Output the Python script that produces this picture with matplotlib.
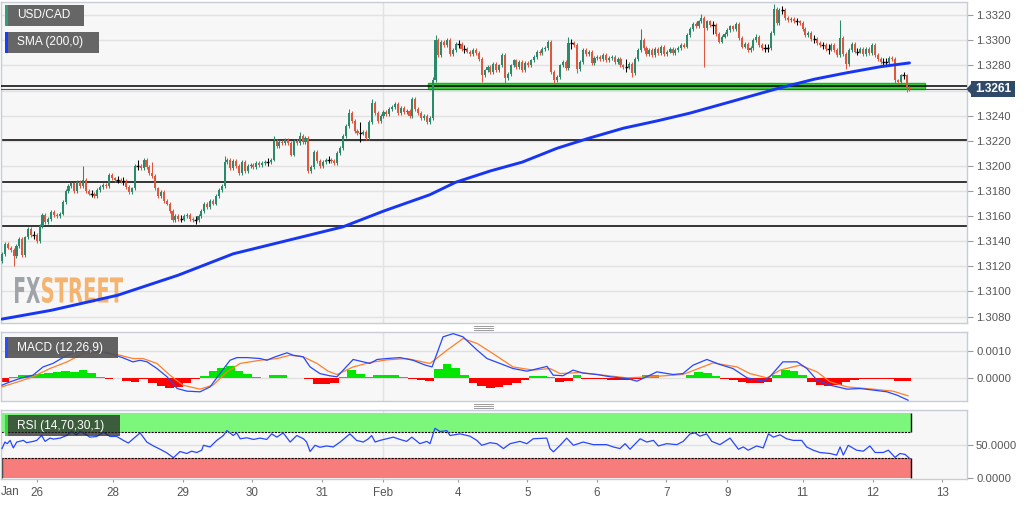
import numpy as np
import matplotlib
matplotlib.use("Agg")
import matplotlib.pyplot as plt
from matplotlib.patches import Rectangle, PathPatch, Polygon
from matplotlib.textpath import TextPath
from matplotlib.font_manager import FontProperties
from matplotlib.transforms import Affine2D
from matplotlib.lines import Line2D

plt.rcParams['font.family'] = ['Liberation Sans', 'DejaVu Sans']

# ---------------- data (prices in pips above 1.3000, hourly candles) ----------------
pair_label = "USD/CAD"
sma_label = "SMA (200,0)"
macd_label = "MACD (12,26,9)"
rsi_label = "RSI (14,70,30,1)"
last_price_label = "1.3261"
price_base = 1.3000
pip = 0.0001

first_open = 124
close_jan25 = [130, 138, 135, 133, 128, 136, 142, 129, 143, 150, 145, 145, 140]
close_jan26 = [152, 161, 155, 158, 163, 161, 160, 162, 171, 180, 184, 186, 180,
               187, 184, 189, 180, 178, 178, 176, 181, 183, 185, 184, 193, 190]
close_jan28 = [189, 189, 188, 188, 183, 179, 182, 200, 200, 198, 205, 199,
               194, 192, 182, 176, 179, 172, 170, 164, 157, 160, 158, 158]
close_jan29 = [160, 161, 158, 157, 157, 160, 164, 170, 167, 172, 170, 176,
               181, 184, 203, 205, 198, 204, 200, 194, 203, 196, 200, 201]
close_jan30 = [199, 202, 201, 202, 203, 203, 205, 220, 216, 219, 218, 221,
               218, 209, 220, 218, 224, 219, 222, 196, 199, 211, 204, 200]
close_jan31 = [203, 205, 205, 204, 202, 210, 214, 224, 232, 242, 236, 228,
               226, 226, 227, 222, 235, 250, 242, 236, 240]
close_feb01 = [243, 241, 245, 247, 249, 242, 246, 243, 244, 240, 253, 245, 242,
               238, 240, 235, 238, 268, 300, 288, 299, 296, 300, 289, 292, 297]
close_feb04 = [297, 293, 293, 291, 289, 292, 290, 285, 272, 276, 279, 275,
               281, 276, 280, 288, 270, 273, 280, 284, 279, 283, 276, 282]
close_feb05 = [280, 284, 287, 291, 290, 293, 294, 299, 275, 268, 271, 280,
               283, 278, 298, 298, 296, 277, 283, 292, 289, 291, 282, 286]
close_feb06 = [287, 285, 288, 284, 286, 287, 283, 285, 280, 279, 279, 281,
               274, 285, 292, 300, 294, 289, 292, 288, 293, 290, 295, 289]
close_feb07 = [291, 293, 290, 292, 294, 296, 295, 304, 309, 313, 311, 315,
               318, 310, 315, 312, 312, 305, 299, 303, 305]
close_feb08 = [308, 311, 309, 313, 302, 295, 297, 292, 294, 300, 303, 296, 294,
               294, 294, 306, 325, 314, 324, 324, 318, 316, 317, 315, 315, 314]
close_feb11 = [309, 304, 306, 301, 301, 298, 296, 296, 293, 293, 296, 292, 288,
               302, 289, 281, 292, 297, 291, 291, 293, 289, 293, 290, 296]
close_feb12 = [288, 285, 283, 283, 283, 286, 285, 268, 267, 272, 272, 262, 261]

# notable wicks: candle index -> pips
spike_high = {28: 200, 47: 205, 52: 203, 77: 208, 94: 224, 103: 227, 120: 245,
              124: 235, 128: 253, 149: 271, 150: 304, 173: 290, 189: 300, 196: 303,
              197: 301, 216: 285, 221: 309, 242: 321, 246: 315, 261: 305, 267: 329,
              286: 297, 290: 316, 312: 274}
spike_low = {4: 120, 59: 155, 106: 194, 124: 219, 166: 267, 174: 266, 191: 265,
             197: 293, 199: 274, 216: 275, 218: 271, 243: 279, 246: 305, 286: 289,
             292: 277, 309: 266, 313: 259}
typical_wick = 1.5      # estimated ordinary wick, pips
doji_wick = 3.0         # estimated doji wick, pips

# SMA(200) read at candle positions
sma_idx = [0, 17, 40, 61, 80, 103, 118, 132, 148, 157, 169, 180, 192, 203, 215,
           227, 238, 252, 269, 281, 292, 304, 314]
sma_val = [78, 85, 97, 113, 130, 143, 151.5, 164, 177, 187, 196, 203, 214, 222, 230,
           236, 242, 251, 262, 269, 274, 279, 282]

# key levels (price)
level_main = 1.3264
levels_other = [1.3221, 1.3187, 1.3152]
last_price = 1.3261
zone_low, zone_high = 1.32615, 1.32664
zone_start, zone_end = 147.4, 319.4

# MACD (units of 1e-4)
macd_idx = [0, 2.8, 6.2, 10.7, 14.2, 17.6, 22.5, 26.0, 29.4, 33.9, 37.4, 41.9, 45.3, 47.8,
            50.2, 53.6, 57.1, 60.6, 64.0, 68.5, 72.0, 75.4, 78.9, 81.3, 84.8, 89.3, 91.7,
            93.8, 98.6, 100.7, 104.2, 106.6, 110.0, 113.5, 115.9, 121.5, 127.3, 129.8,
            133.2, 137.7, 142.2, 146.4, 148.8, 152.6, 156.1, 159.5, 164.4, 167.8, 172.3,
            176.8, 181.7, 188.6, 190.7, 194.1, 197.6, 201.0, 205.9, 210.4, 216.3, 219.7,
            224.2, 226.6, 232.2, 235.6, 239.1, 243.9, 248.4, 252.9, 257.8, 263.3, 265.7,
            270.2, 275.1, 278.5, 282.0, 286.5, 292.4, 296.9, 301.4, 306.2, 309.7, 313.5]
macd_val = [-2.75, -1.5, -0.25, 1.0, 4.1, 5.4, 8.5, 9.75, 10.4, 10.0, 9.1, 7.5, 6.0, 6.6,
            6.0, 3.5, 0.4, -4.0, -5.0, -5.25, -3.4, 1.6, 6.6, 7.6, 7.6, 7.25, 6.6,
            7.6, 9.4, 8.5, 7.9, 4.1, 1.6, 0.75, 0.4, 6.9, 5.4, 6.9,
            7.25, 7.6, 6.6, 4.8, 4.1, 15.4, 16.6, 15.4, 10.4, 7.25, 5.4,
            3.5, 2.5, 4.3, 1.0, 0.8, 2.9, 1.8, 1.25, 0.4, -0.25, -1.25,
            1.0, 2.25, 1.25, 1.6, 4.75, 6.9, 5.0, 3.5, 0.0, -1.25, 0.4,
            6.0, 6.0, 3.5, -0.9, -2.75, -4.25, -4.0, -4.6, -5.25, -6.5, -8.4]
signal_idx = [0, 6.2, 10.7, 16.6, 22.5, 28.0, 33.9, 39.8, 45.3, 48.8, 53.6, 58.1, 62.6,
              68.5, 73.0, 77.9, 82.4, 89.3, 95.2, 99.7, 104.2, 109.0, 112.8, 115.9, 121.5,
              127.3, 133.2, 140.1, 148.1, 154.0, 159.5, 164.4, 169.9, 176.8, 183.7, 189.6,
              193.1, 200.0, 208.0, 216.3, 224.2, 235.6, 246.0, 254.3, 258.8, 264.7, 269.2,
              276.1, 282.0, 286.5, 292.4, 301.4, 308.3, 313.5]
signal_val = [-3.4, -1.25, 0.4, 3.5, 6.0, 9.1, 9.75, 8.75, 7.25, 7.25, 5.4, 1.0, -2.75,
              -4.25, -2.75, 2.25, 5.4, 6.6, 7.25, 8.5, 7.9, 5.4, 2.5, 1.25, 4.1,
              5.75, 6.75, 7.25, 5.4, 10.4, 14.75, 12.9, 9.1, 4.1, 2.9, 3.5,
              1.6, 2.0, 1.0, 0.0, 0.4, 1.25, 5.6, 4.1, 1.6, 0.0, 2.9,
              4.75, 2.25, -1.5, -3.4, -4.25, -5.0, -6.75]
hist_start = 0
hist_step = 3
hist_val = [-1.5, 0.5, 0.9, 1.2, 1.5, 1.9, 2.3, 2.5, 2.2, 3.0,
            1.8, 0.2, -0.6, -0.1, -1.1, -1.7, -0.5, -2.0, -3.2, -4.0,
            -3.4, -2.0, -0.4, 0.8, 2.4, 3.8, 4.4, 2.6, 1.5, 0.2,
            -0.1, 1.0, 1.2, 0.1, -0.1, -0.6, -2.5, -2.3, -1.8, 0.4,
            2.8, 1.5, 0.3, 1.0, 1.0, 1.0, 0.4, -0.4, -0.9, -1.3,
            3.5, 5.1, 3.8, 1.2, -2.0, -3.2, -3.8, -3.5, -2.6, -1.8,
            -1.0, 0.6, 0.8, 0.4, -1.7, -1.2, 1.0, -0.3, -0.5, -0.5,
            -0.7, -0.8, -0.8, -0.4, 1.2, 0.9, 0.1, -0.1, 0.1, 1.2,
            2.2, 2.0, 0.8, -0.6, -1.0, -1.6, -2.0, -2.1, -1.5, 1.2,
            2.9, 2.4, 0.9, -1.5, -2.6, -3.0, -2.8, -1.5, -0.8, -0.6,
            -0.3, -0.3, -0.5, -1.2, -1.3]

# RSI(14)
rsi_idx = [0, 1.0, 1.8, 2.8, 3.9, 5.1, 7.4, 8.5, 10.8, 12.0, 13.7, 14.9, 16.6, 17.8, 20.1,
           22.4, 24.1, 25.8, 27.0, 28.7, 30.4, 32.8, 35.1, 37.4, 39.7, 42.0, 43.7, 45.4,
           47.8, 50.1, 52.4, 54.7, 57.0, 59.3, 61.6, 63.9, 65.6, 67.4, 69.1, 69.7, 72.0,
           74.3, 76.6, 77.8, 80.0, 81.2, 82.4, 84.7, 87.0, 89.3, 91.6, 93.3, 95.1, 97.3,
           99.7, 102.0, 104.3, 105.4, 106.6, 108.3, 110.0, 112.3, 114.6, 117.0, 120.4,
           122.7, 125.0, 126.8, 127.9, 129.1, 130.8, 133.1, 135.4, 137.7, 140.0, 141.8,
           144.6, 147.0, 148.1, 149.8, 151.6, 153.9, 155.0, 158.5, 161.9, 164.3, 166.0,
           168.9, 171.2, 173.5, 175.8, 179.2, 181.6, 183.8, 188.5, 189.6, 190.8, 193.1,
           195.4, 197.7, 201.1, 204.6, 209.2, 211.5, 213.8, 215.6, 217.3, 220.8, 223.1,
           225.4, 227.1, 230.0, 233.5, 235.7, 238.1, 239.8, 241.5, 243.8, 245.6, 248.4,
           251.9, 254.8, 256.5, 258.2, 261.1, 263.4, 265.2, 266.9, 269.2, 271.5, 273.8,
           276.7, 278.4, 280.7, 283.0, 286.5, 288.8, 290.0, 291.1, 292.8, 295.7, 298.0,
           300.3, 302.1, 304.9, 306.7, 309.0, 310.7, 312.5, 314.0]
rsi_val = [45, 55, 52.5, 57.5, 46, 55, 57.5, 54, 56, 57.5, 65, 56, 61, 59.5, 61,
           65, 71, 66, 71, 67.5, 62.5, 63.5, 70, 63.5, 63.5, 57.5, 53.5, 60,
           69, 55, 49, 44, 38.5, 31, 40.5, 37.5, 41, 39, 42.5, 50, 47.5,
           57.5, 65, 72.5, 65, 69, 60, 61.5, 59, 61, 59, 67.5, 62.5, 69,
           55, 65, 60, 55, 40.5, 50, 47, 49, 47.5, 55, 67.5,
           57.5, 55, 60, 65, 55, 57.5, 60, 62.5, 59, 56, 62.5,
           52.5, 56, 52.5, 76, 71, 72.5, 65, 67.5, 64, 57.5, 50,
           54, 52.5, 45, 52.5, 56, 52.5, 60, 61, 45, 40, 50,
           61, 50, 55, 51, 51, 47.5, 45, 52.5, 44, 60, 55,
           57.5, 49, 52.5, 51, 56, 67.5, 69, 64, 67.5, 56, 51,
           61, 44, 47.5, 42.5, 49, 46, 67.5, 62.5, 66, 60, 57.5,
           57.5, 47.5, 42.5, 39, 37.5, 35, 47.5, 35, 50, 42.5, 41,
           49, 39, 39, 42.5, 31.5, 37.5, 36, 30]
rsi_upper, rsi_lower, rsi_band_top = 70, 30, 100
band_end = 314.5

# x axis
tick_pos = [12.2, 38.5, 62.5, 86.6, 110.6, 131.7, 157.9, 181.8, 205.8, 229.8,
            251.0, 277.0, 301.3, 325.3]
tick_lab = ["26", "28", "29", "30", "31", "Feb", "4", "5", "6", "7", "9", "11", "12", "13"]
first_tick_label = "Jan"
month_line = 131.7
x_lo, x_hi = -0.35, 333.9

# ---------------- derived candles ----------------
closes = np.array(close_jan25 + close_jan26 + close_jan28 + close_jan29 + close_jan30 +
                  close_jan31 + close_feb01 + close_feb04 + close_feb05 + close_feb06 +
                  close_feb07 + close_feb08 + close_feb11 + close_feb12, dtype=float)
n = len(closes)
xs = np.arange(n)
opens = np.concatenate([[first_open], closes[:-1]])
doji = opens == closes
pad = np.where(doji, doji_wick, typical_wick)
highs = np.maximum(opens, closes) + pad
lows = np.minimum(opens, closes) - pad
for k, v in spike_high.items():
    highs[k] = max(highs[k], v)
for k, v in spike_low.items():
    lows[k] = min(lows[k], v)

def P(p):
    return price_base + np.asarray(p, dtype=float) * pip

# ---------------- figure ----------------
W, H = 1032, 505
fig = plt.figure(figsize=(W / 100, H / 100), dpi=100, facecolor='white')

def fr(x0, y0, x1, y1):
    return [x0 / W, 1 - y1 / H, (x1 - x0) / W, (y1 - y0) / H]

ax_p = fig.add_axes(fr(1, 1.5, 967, 323))
ax_m = fig.add_axes(fr(1, 332.3, 967, 401))
ax_r = fig.add_axes(fr(1, 410, 967, 479.3))

label_color = '#555555'
for ax in (ax_p, ax_m, ax_r):
    ax.set_facecolor('#f7f7f7')
    for s in ax.spines.values():
        s.set_color('#c8ccd8')
        s.set_linewidth(1.0)
    ax.set_xlim(x_lo, x_hi)
    ax.yaxis.tick_right()
    ax.tick_params(axis='y', length=4.5, width=0.8, color='#9a9a9a', labelcolor=label_color,
                   labelsize=8.1, pad=2)
    ax.axvline(month_line, color='#e2e2e2', lw=1, zorder=0)

# ---- price panel ----
price_ticks = np.round(np.arange(1.3080, 1.33201, 0.0020), 4)
ax_p.set_ylim(1.30749, 1.33309)
ax_p.set_yticks(price_ticks)
# the 1.3260 label sits under the last-price tag, so it is left blank
ax_p.set_yticklabels(["" if abs(v - 1.3260) < 1e-6 else f"{v:.4f}" for v in price_ticks])
ax_p.set_xticks([])
for v in price_ticks:
    ax_p.axhline(v, color='#e2e2e2', lw=1, zorder=0)

# watermark
def watermark(ax, text, x0, x1, ytop, ybot, color):
    fp = FontProperties(family='DejaVu Sans', weight='bold')
    tp = TextPath((0, 0), text, size=100, prop=fp)
    ext = tp.get_extents()
    tr = (Affine2D().translate(-ext.x0, -ext.y0)
          .scale((x1 - x0) / ext.width, (ybot - ytop) / ext.height)
          .translate(x0, H - ybot))
    patch = PathPatch(tp, transform=tr, facecolor=color, edgecolor='none', zorder=1)
    ax.add_artist(patch)

watermark(ax_p, "FX", 15, 40, 277, 303, '#a0a4aa')
watermark(ax_p, "STREET", 42, 123, 277, 303, '#f4b36f')

up_c, dn_c = '#2b8a6b', '#e0573f'
cols = np.where(doji, 'black', np.where(closes > opens, up_c, dn_c))
ax_p.vlines(xs, P(lows), P(highs), colors=cols, lw=0.75, zorder=3)
body_lo = np.minimum(opens, closes)
body_h = np.abs(closes - opens)
nd = ~doji
ax_p.bar(xs[nd], body_h[nd] * pip, bottom=P(body_lo[nd]), width=0.72,
         color=cols[nd], linewidth=0, zorder=3)
ax_p.hlines(P(closes[doji]), xs[doji] - 0.55, xs[doji] + 0.55, colors='black', lw=1.0, zorder=3)

ax_p.plot(sma_idx, P(sma_val), color='#1636f3', lw=2.1, zorder=4, solid_capstyle='round')

for lv in levels_other:
    ax_p.axhline(lv, color='black', lw=1.1, zorder=2)
ax_p.add_patch(Rectangle((zone_start, zone_low), zone_end - zone_start, zone_high - zone_low,
                         facecolor='#3ccf3c', edgecolor='#22b022', lw=1.0, zorder=2.5,
                         clip_on=False))
ax_p.axhline(level_main, color='black', lw=1.1, zorder=2.6)
ax_p.axhline(last_price, color='#3c5878', lw=0.8, zorder=2.6)

# ---- MACD panel ----
ax_m.set_ylim(-0.00087, 0.00171)
ax_m.set_yticks([0.0, 0.0010])
ax_m.set_yticklabels(["0.0000", "0.0010"])
ax_m.set_xticks([])
for v in (0.0, 0.0010):
    ax_m.axhline(v, color='#e0e0e0', lw=1, zorder=0)
hv = np.array(hist_val) * 1e-4
hx = hist_start + hist_step * np.arange(len(hv)) - 0.5
ax_m.bar(hx, hv, width=hist_step, align='edge',
         color=np.where(hv >= 0, '#00e600', '#ff0000'), linewidth=0, zorder=2)
ax_m.plot(signal_idx, np.array(signal_val) * 1e-4, color='#ff7f2a', lw=0.9, zorder=3)
ax_m.plot(macd_idx, np.array(macd_val) * 1e-4, color='#2747ff', lw=0.9, zorder=4)

# ---- RSI panel ----
ax_r.set_ylim(-2, 104)
ax_r.set_yticks([0, 50])
ax_r.set_yticklabels(["0.0000", "50.0000"])
ax_r.axhline(50, color='#e0e0e0', lw=1, zorder=0)
ax_r.add_patch(Rectangle((x_lo, rsi_upper), band_end - x_lo, rsi_band_top - rsi_upper,
                         facecolor='#7cf77c', edgecolor='none', zorder=1))
ax_r.add_patch(Rectangle((x_lo, 0), band_end - x_lo, rsi_lower,
                         facecolor='#f77c7c', edgecolor='none', zorder=1))
ax_r.hlines([rsi_upper, rsi_lower], x_lo, band_end, colors='black', lw=0.8,
            linestyles=(0, (2, 1)), zorder=2)
ax_r.vlines([band_end], rsi_upper, rsi_band_top, colors='black', lw=1.0, zorder=2)
ax_r.vlines([band_end], 0, rsi_lower, colors='black', lw=1.0, zorder=2)
ax_r.vlines([x_lo + 0.3], 0, rsi_lower, colors='#333333', lw=1.0, zorder=2)
ax_r.plot(rsi_idx, rsi_val, color='#2747ff', lw=0.9, zorder=3)
ax_r.set_xticks(tick_pos)
ax_r.set_xticklabels(tick_lab)
ax_r.tick_params(axis='x', length=2.5, width=0.8, color='#9a9a9a', labelcolor=label_color,
                 labelsize=8.4, pad=3)
fig.text(0.5 / W, 1 - 492 / H, first_tick_label, ha='left', va='center',
         color=label_color, fontsize=8.4)

# ---------------- overlays in figure pixels ----------------
def add_rect(x0, y0, x1, y1, color, alpha=1.0, z=5):
    fig.add_artist(Rectangle((x0 / W, 1 - y1 / H), (x1 - x0) / W, (y1 - y0) / H,
                             transform=fig.transFigure, facecolor=color, edgecolor='none',
                             alpha=alpha, zorder=z))

def label_box(x0, y0, x1, y1, text, bar_color, box_color, alpha):
    add_rect(x0, y0, x1, y1, box_color, alpha, 5)
    add_rect(x0, y0, x0 + 2.5, y1, bar_color, 1.0, 6)
    fig.text((x0 + 12) / W, 1 - (y0 + y1) / 2 / H, text, color='white', fontsize=8.6,
             ha='left', va='center', zorder=7)

label_box(5, 5, 84, 26, pair_label, '#2e9e7f', '#5e5e5e', 0.95)
label_box(5, 32, 99, 53, sma_label, '#1a3cff', '#5e5e5e', 0.95)
label_box(5, 337, 118, 358, macd_label, '#2a4dff', '#555555', 0.92)
label_box(5, 415, 120, 436, rsi_label, '#39d639', '#222222', 0.72)

# last price tag
tag_color = '#2f4a69'
add_rect(970.5, 81, 1015, 97, tag_color, 1.0, 5)
fig.add_artist(Polygon([(966.5 / W, 1 - 89 / H), (971 / W, 1 - 84 / H), (971 / W, 1 - 94 / H)],
                       closed=True, transform=fig.transFigure, facecolor=tag_color,
                       edgecolor='none', zorder=5))
fig.text(993 / W, 1 - 89 / H, last_price_label, color='white', fontsize=8.6, weight='bold',
         ha='center', va='center', zorder=7)

# panel drag handles
for yc in (327.5, 405.5):
    for dy in (-2, 0, 2):
        fig.add_artist(Line2D([474 / W, 493 / W], [1 - (yc + dy) / H] * 2,
                              transform=fig.transFigure, color='#8c8c8c', lw=0.6, zorder=5))

fig.savefig("out.png", dpi=100, facecolor='white')
